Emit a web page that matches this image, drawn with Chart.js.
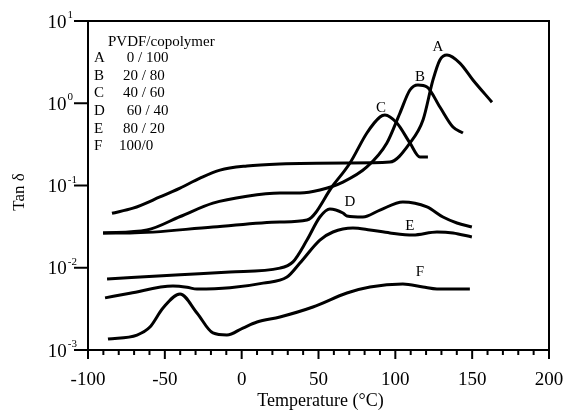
<!DOCTYPE html>
<html>
<head>
<meta charset="utf-8">
<title>Tan delta vs temperature</title>
<script src="https://cdn.jsdelivr.net/npm/chart.js"></script>
<style>
  html, body { margin: 0; padding: 0; background: #fff; }
  #wrap { width: 564px; height: 412px; position: relative; }
</style>
</head>
<body>
<div id="wrap"><canvas id="tanChart"></canvas></div>
<script>
// temperature (°C) and tan delta for each PVDF/copolymer blend
var tempA = [-84.4, -70.7, -53.2, -40.1, -27.1, -14.1, 3.4, 24.9, 68.5, 96.5, 109.5, 118.0, 124.5, 129.0, 133.6, 142.0, 150.5, 162.9];
var tanA  = [0.046, 0.053, 0.0725, 0.093, 0.123, 0.154, 0.173, 0.183, 0.188, 0.193, 0.329, 0.625, 1.92, 3.36, 3.86, 3.08, 1.92, 1.03];

var tempB = [-90.2, -61.6, -40.0, -18.7, 3.4, 24.9, 37.9, 50.9, 65.9, 81.5, 94.5, 103.0, 109.5, 114.7, 120.6, 129.0, 137.5, 144.0];
var tanB  = [0.0265, 0.0288, 0.042, 0.061, 0.074, 0.081, 0.081, 0.088, 0.110, 0.168, 0.329, 0.76, 1.45, 1.67, 1.58, 0.90, 0.514, 0.435];

var tempC = [-90.2, -72.7, -18.7, 24.9, 42.5, 59.4, 70.5, 81.5, 90.0, 93.2, 101.0, 109.5, 116.0, 121.2];
var tanC  = [0.0265, 0.0265, 0.0313, 0.036, 0.0381, 0.10, 0.188, 0.435, 0.68, 0.72, 0.575, 0.329, 0.222, 0.222];

var tempD = [-87.6, -40.1, -7.6, 24.9, 33.4, 42.5, 50.9, 57.4, 65.9, 68.5, 78.9, 90.0, 104.9, 120.6, 131.0, 140.1, 149.8];
var tanD  = [0.0073, 0.0082, 0.0089, 0.0099, 0.0118, 0.0217, 0.0414, 0.0518, 0.0463, 0.0426, 0.0414, 0.0503, 0.063, 0.0548, 0.0414, 0.035, 0.0313];

var tempE = [-88.9, -72.7, -44.7, -35.6, -29.1, -7.6, 13.9, 29.5, 37.9, 50.9, 59.4, 72.4, 83.5, 96.5, 111.5, 127.1, 137.5, 149.8];
var tanE  = [0.0043, 0.0049, 0.0060, 0.0058, 0.0055, 0.0057, 0.0065, 0.0077, 0.0114, 0.0217, 0.0272, 0.0304, 0.0288, 0.0265, 0.025, 0.0272, 0.0265, 0.0237];

var tempF = [-87.0, -68.1, -59.7, -51.2, -40.1, -29.1, -18.7, -9.6, 0.8, 10.0, 24.9, 46.4, 68.5, 83.5, 104.9, 118.0, 127.1, 148.5];
var tanF  = [0.00136, 0.00152, 0.0019, 0.00324, 0.0048, 0.00282, 0.00161, 0.00152, 0.00185, 0.00219, 0.00252, 0.00333, 0.00493, 0.00583, 0.00634, 0.00583, 0.00552, 0.00552];

var blendNames  = ["A", "B", "C", "D", "E", "F"];
var blendRatios = [" 0 / 100", "20 / 80", "40 / 60", " 60 / 40", "80 / 20", "100/0"];

// where each curve's letter sits (temperature, tan delta)
var letterTemp = [127.7, 116.0, 90.6, 70.5, 109.5, 116.0];
var letterTan  = [4.8, 2.1, 0.88, 0.063, 0.032, 0.0089];

var xLabelValues = [-100, -50, 0, 50, 100, 150, 200];
var yExponents = [1, 0, -1, -2, -3];

var temps = [tempA, tempB, tempC, tempD, tempE, tempF];
var tans = [tanA, tanB, tanC, tanD, tanE, tanF];

var SERIF = "'Liberation Serif', 'DejaVu Serif', serif";

var datasets = temps.map(function (t, k) {
  return {
    label: blendNames[k],
    data: t.map(function (x, i) { return { x: x, y: tans[k][i] }; }),
    borderColor: "#000",
    borderWidth: 3,
    pointRadius: 0,
    fill: false,
    cubicInterpolationMode: "monotone"
  };
});

// frame, ticks, tick labels, titles and the blend key
var decorations = {
  id: "decorations",
  afterDraw: function (chart) {
    var ctx = chart.ctx;
    var a = chart.chartArea;
    var xs = chart.scales.x;
    var ys = chart.scales.y;
    ctx.save();
    ctx.strokeStyle = "#000";
    ctx.fillStyle = "#000";
    ctx.lineWidth = 2;
    ctx.strokeRect(a.left, a.top, a.right - a.left, a.bottom - a.top);

    // x ticks every 10, longer at every 50
    ctx.lineWidth = 2;
    for (var v = -100; v <= 200; v += 10) {
      var px = xs.getPixelForValue(v);
      var len = (v % 50 === 0) ? 9 : 5;
      ctx.beginPath();
      ctx.moveTo(px, a.bottom);
      ctx.lineTo(px, a.bottom + len);
      ctx.stroke();
    }
    ctx.font = "19px " + SERIF;
    ctx.textAlign = "center";
    ctx.textBaseline = "alphabetic";
    xLabelValues.forEach(function (v) {
      ctx.fillText(String(v), xs.getPixelForValue(v), a.bottom + 35);
    });

    // y decade ticks with 10^n labels
    yExponents.forEach(function (e) {
      var py = ys.getPixelForValue(Math.pow(10, e));
      ctx.beginPath();
      ctx.moveTo(a.left - 14, py);
      ctx.lineTo(a.left, py);
      ctx.stroke();
      var expText = String(e);
      ctx.font = "11px " + SERIF;
      ctx.textAlign = "left";
      var expW = ctx.measureText(expText).width;
      var expX = a.left - 15 - expW;
      if (e < 0) expX += 4;
      ctx.fillText(expText, expX, py - 3);
      ctx.font = "19px " + SERIF;
      ctx.textAlign = "right";
      ctx.fillText("10", expX - 1, py + 6.5);
    });

    // axis titles
    ctx.font = "18px " + SERIF;
    ctx.textAlign = "center";
    ctx.fillText("Temperature (\u00B0C)", (a.left + a.right) / 2 + 2, a.bottom + 56);
    ctx.save();
    ctx.translate(24, 192);
    ctx.rotate(-Math.PI / 2);
    ctx.font = "17px " + SERIF;
    ctx.fillText("Tan \u03B4", 0, 0);
    ctx.restore();

    // curve letters
    ctx.font = "15px " + SERIF;
    ctx.textAlign = "center";
    ctx.textBaseline = "middle";
    blendNames.forEach(function (n, k) {
      ctx.fillText(n, xs.getPixelForValue(letterTemp[k]), ys.getPixelForValue(letterTan[k]));
    });

    // blend key
    ctx.textAlign = "left";
    ctx.textBaseline = "middle";
    ctx.fillText("PVDF/copolymer", a.left + 20, a.top + 21);
    blendNames.forEach(function (n, k) {
      var rowY = a.top + 37 + k * 17.7;
      ctx.fillText(n, a.left + 6, rowY);
      ctx.fillText(blendRatios[k], a.left + (k === 5 ? 31 : 35), rowY);
    });
    ctx.restore();
  }
};

new Chart(document.getElementById("tanChart"), {
  type: "line",
  data: { datasets: datasets },
  options: {
    responsive: true,
    maintainAspectRatio: false,
    animation: false,
    layout: { padding: { left: 88, right: 15, top: 21, bottom: 62 } },
    plugins: { legend: { display: false }, tooltip: { enabled: false } },
    scales: {
      x: { type: "linear", min: -100, max: 200, display: false },
      y: { type: "logarithmic", min: 0.001, max: 10, display: false }
    }
  },
  plugins: [decorations]
});
</script>
</body>
</html>
